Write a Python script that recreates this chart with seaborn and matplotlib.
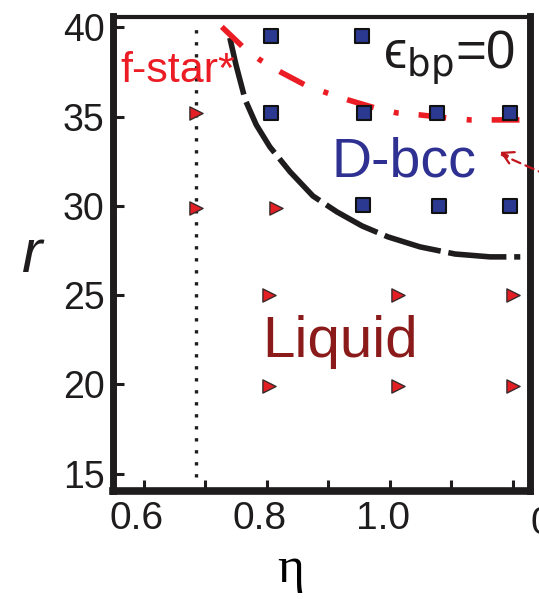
import numpy as np
import pandas as pd
import matplotlib
matplotlib.use("Agg")
import matplotlib.pyplot as plt
import matplotlib.transforms as mtransforms
import seaborn as sns

# ---------------- data ----------------
# D-bcc state points (blue squares)
bcc_eta = [0.807, 0.955, 0.807, 0.958, 1.077, 1.195, 0.956, 1.080, 1.195]
bcc_r = [39.5, 39.5, 35.2, 35.2, 35.2, 35.2, 30.05, 30.0, 30.0]

# Liquid state points (red triangles)
liq_eta = [0.685, 0.685, 0.815, 0.803, 1.013, 1.200, 0.803, 1.013, 1.200]
liq_r = [35.2, 29.9, 29.9, 25.0, 25.0, 25.0, 19.9, 19.9, 19.9]

# black dashed boundary
bnd_eta = [0.740, 0.750, 0.765, 0.783, 0.805, 0.838, 0.875, 0.914, 0.955,
           0.997, 1.049, 1.106, 1.163, 1.212]
bnd_r = [39.40, 37.89, 35.93, 34.53, 33.30, 31.90, 30.55, 29.66, 28.87,
         28.26, 27.70, 27.30, 27.14, 27.14]

# red dash-dot boundary
red_eta = [0.727, 0.761, 0.789, 0.822, 0.862, 0.898, 0.932, 0.976, 1.012,
           1.049, 1.093, 1.130, 1.166, 1.215]
red_r = [40.02, 38.90, 38.17, 37.50, 36.77, 36.32, 35.93, 35.48, 35.20,
         35.09, 34.92, 34.81, 34.81, 34.81]

# vertical dotted f-star line
fstar_eta = [0.685, 0.685]
fstar_r = [14.82, 40.24]

x_ticks = [0.6, 0.7, 0.8, 0.9, 1.0, 1.1, 1.2]
x_ticklabels = ["0.6", "", "0.8", "", "1.0", "", ""]
y_ticks = [15, 20, 25, 30, 35, 40]
y_ticklabels = ["15", "20", "25", "30", "35", "40"]

# ---------------- style ----------------
sns.set_style("ticks")
plt.rcParams["font.family"] = ["Liberation Sans", "DejaVu Sans"]
plt.rcParams["mathtext.fontset"] = "dejavusans"

W, H = 539, 599
fig = plt.figure(figsize=(W / 100, H / 100), dpi=100)
L, R, T, B = 113, 530, 16.5, 491
ax = fig.add_axes([L / W, 1 - B / H, (R - L) / W, (B - T) / H])

dark = "#1e1c1d"

# lines
sns.lineplot(x=fstar_eta, y=fstar_r, ax=ax, estimator=None, sort=False,
             color=dark, linewidth=2.4, linestyle=(0, (1, 2.6)), zorder=2)
sns.lineplot(x=bnd_eta, y=bnd_r, ax=ax, estimator=None, sort=False,
             color=dark, linewidth=4.0, linestyle=(0, (10.5, 1.4)), zorder=2)
sns.lineplot(x=red_eta, y=red_r, ax=ax, estimator=None, sort=False,
             color="#EC1C24", linewidth=4.0,
             linestyle=(0, (5.0, 3.7, 0.9, 3.6)), zorder=2)

# markers
sns.scatterplot(x=bcc_eta, y=bcc_r, ax=ax, marker="s", s=100,
                color="#2B3990", edgecolor="#111111", linewidth=1.5, zorder=4)
sns.scatterplot(x=liq_eta, y=liq_r, ax=ax, marker=">", s=90,
                color="#E31E24", edgecolor="#3a2a2a", linewidth=1.0, zorder=4)

# texts
ax.text(0.5615, 36.94, "f-star*", color="#EC1C24", fontsize=31,
        ha="left", va="baseline", zorder=5)
ax.text(1.2034, 37.66, "ϵ$_{\\mathrm{bp}}$=0", color=dark, fontsize=38,
        ha="right", va="baseline", zorder=5)
ax.text(0.906, 31.62, "D-bcc", color="#2E3192", fontsize=40,
        ha="left", va="baseline", zorder=5)
ax.text(0.7924, 21.54, "Liquid", color="#8B1A1A", fontsize=42,
        ha="left", va="baseline", zorder=5)

# arrow pointing at D-bcc (dashed shaft from outside, open head)
arrow_col = "#C0161C"
ax.annotate("", xy=(1.182, 32.85), xytext=(1.2765, 31.40),
            arrowprops=dict(arrowstyle="-", color=arrow_col, lw=1.6,
                            linestyle=(0, (4, 2.5)), shrinkA=0, shrinkB=0),
            annotation_clip=False, zorder=5)
ax.annotate("", xy=(1.179, 33.02), xytext=(1.192, 32.80),
            arrowprops=dict(arrowstyle="->,head_length=0.8,head_width=0.45",
                            color=arrow_col, lw=1.6, shrinkA=0, shrinkB=0),
            annotation_clip=False, zorder=5)

# axes
ax.set_xlim(0.5501, 1.2278)
ax.set_ylim(14.03, 40.6)
ax.set_xticks(x_ticks)
ax.set_xticklabels(x_ticklabels)
ax.set_yticks(y_ticks)
ax.set_yticklabels(y_ticklabels)
ax.tick_params(axis="both", direction="in", length=8, width=2.2, color=dark)
ax.tick_params(axis="x", labelsize=28, pad=7, labelcolor=dark)
ax.tick_params(axis="y", labelsize=27, pad=6, labelcolor=dark)

# x tick labels sit slightly left of their ticks in the reference
shift = mtransforms.ScaledTranslation(-7 / 100, 0, fig.dpi_scale_trans)
for lab in ax.get_xticklabels():
    lab.set_transform(lab.get_transform() + shift)

for side, lw in [("left", 5), ("right", 5), ("bottom", 5.5), ("top", 3)]:
    ax.spines[side].set_visible(True)
    ax.spines[side].set_linewidth(lw)
    ax.spines[side].set_color(dark)

ax.set_xlabel("η", fontfamily=["Liberation Serif", "DejaVu Serif"],
              fontsize=37, color="black")
ax.xaxis.set_label_coords(0.427, -0.166)
ax.xaxis.label.set_verticalalignment("center")
ax.set_ylabel("r", fontsize=44, style="italic", rotation=0, color=dark)
ax.yaxis.set_label_coords(-0.194, 0.495)
ax.yaxis.label.set_verticalalignment("center")
ax.yaxis.label.set_horizontalalignment("center")

# cut-off neighbouring tick label at the right edge (as in the reference)
fig.text(530 / W, 1 - 534 / H, "0", fontsize=28, color=dark,
         ha="left", va="baseline")

fig.savefig("out.png", dpi=100)
